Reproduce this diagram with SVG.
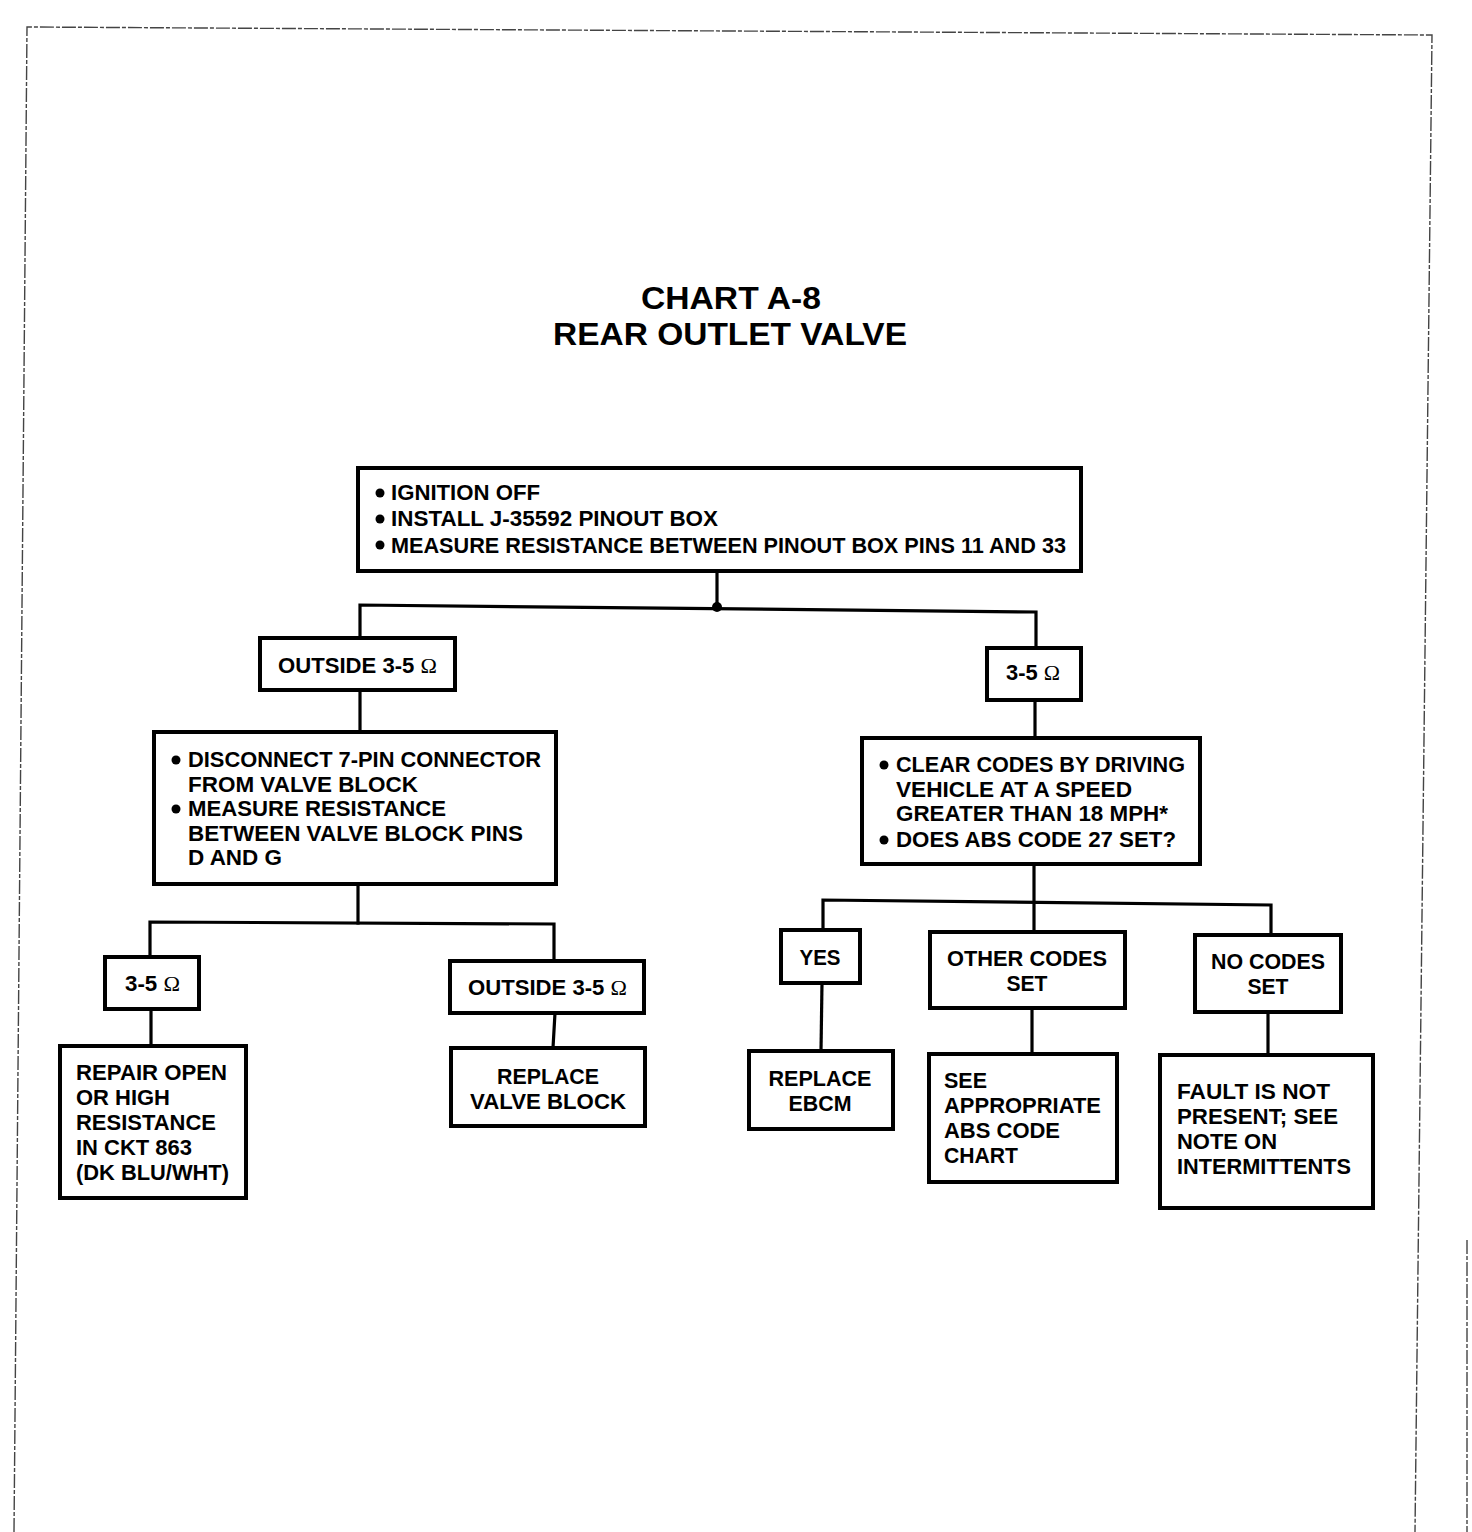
<svg xmlns="http://www.w3.org/2000/svg" width="1472" height="1532" viewBox="0 0 1472 1532">
<style>
.box{fill:#fff;stroke:#000;stroke-width:4}
.ln{fill:none;stroke:#000;stroke-width:3.2;stroke-linecap:square}
.frame{fill:none;stroke:#444;stroke-width:1.4;stroke-dasharray:14 2 4 2}
text{font-family:"Liberation Sans",Arial,sans-serif;font-weight:bold;font-size:22px;fill:#000}
.t{font-size:32px}
.c{text-anchor:middle}
.om{font-family:"Liberation Serif","Times New Roman",serif;font-weight:normal}
.dot{fill:#000}
</style>
<rect width="1472" height="1532" fill="#fff"/>
<g id="frame">
<polyline class="frame" points="14,1532 27,27 1432,35 1415,1532"/>
<line class="frame" x1="1467" y1="1240" x2="1467" y2="1532"/>
</g>
<g id="title">
<text class="t c" x="731" y="309" textLength="180" lengthAdjust="spacingAndGlyphs">CHART A-8</text>
<text class="t c" x="730" y="345" textLength="354" lengthAdjust="spacingAndGlyphs">REAR OUTLET VALVE</text>
</g>
<g id="connectors">
<polyline class="ln" points="717,571 717,607"/>
<polyline class="ln" points="360,638 360,605 1036,612 1036,648"/>
<circle class="dot" cx="717" cy="607" r="5"/>
<polyline class="ln" points="360,690 360,732"/>
<polyline class="ln" points="1035,700 1035,738"/>
<polyline class="ln" points="358,884 358,923"/>
<polyline class="ln" points="150,957 150,922 554,924 554,961"/>
<polyline class="ln" points="151,1009 151,1046"/>
<polyline class="ln" points="555,1013 553,1048"/>
<polyline class="ln" points="1034,864 1034,932"/>
<polyline class="ln" points="823,930 823,900 1271,905 1271,935"/>
<polyline class="ln" points="822,983 821,1051"/>
<polyline class="ln" points="1032,1008 1032,1054"/>
<polyline class="ln" points="1268,1012 1268,1055"/>
</g>
<g id="n_top">
<rect class="box" x="358" y="468" width="723" height="103"/>
<circle class="dot" cx="380" cy="493" r="4.5"/>
<circle class="dot" cx="380" cy="519" r="4.5"/>
<circle class="dot" cx="380" cy="545" r="4.5"/>
<text x="391" y="500" textLength="149" lengthAdjust="spacingAndGlyphs">IGNITION OFF</text>
<text x="391" y="526" textLength="327" lengthAdjust="spacingAndGlyphs">INSTALL J-35592 PINOUT BOX</text>
<text x="391" y="553" textLength="675" lengthAdjust="spacingAndGlyphs">MEASURE RESISTANCE BETWEEN PINOUT BOX PINS 11 AND 33</text>
</g>
<g id="n_out1">
<rect class="box" x="260" y="638" width="195" height="52"/>
<text x="278" y="673" textLength="159" lengthAdjust="spacingAndGlyphs">OUTSIDE 3-5 <tspan class="om">Ω</tspan></text>
</g>
<g id="n_in1">
<rect class="box" x="987" y="648" width="94" height="52"/>
<text x="1006" y="680" textLength="54" lengthAdjust="spacingAndGlyphs">3-5 <tspan class="om">Ω</tspan></text>
</g>
<g id="n_disc">
<rect class="box" x="154" y="732" width="402" height="152"/>
<circle class="dot" cx="176" cy="760" r="4.5"/>
<circle class="dot" cx="176" cy="809" r="4.5"/>
<text x="188" y="767" textLength="353" lengthAdjust="spacingAndGlyphs">DISCONNECT 7-PIN CONNECTOR</text>
<text x="188" y="792" textLength="230" lengthAdjust="spacingAndGlyphs">FROM VALVE BLOCK</text>
<text x="188" y="816" textLength="258" lengthAdjust="spacingAndGlyphs">MEASURE RESISTANCE</text>
<text x="188" y="841" textLength="335" lengthAdjust="spacingAndGlyphs">BETWEEN VALVE BLOCK PINS</text>
<text x="188" y="865" textLength="94" lengthAdjust="spacingAndGlyphs">D AND G</text>
</g>
<g id="n_clear">
<rect class="box" x="862" y="738" width="338" height="126"/>
<circle class="dot" cx="884" cy="765" r="4.5"/>
<circle class="dot" cx="884" cy="840" r="4.5"/>
<text x="896" y="772" textLength="289" lengthAdjust="spacingAndGlyphs">CLEAR CODES BY DRIVING</text>
<text x="896" y="797" textLength="236" lengthAdjust="spacingAndGlyphs">VEHICLE AT A SPEED</text>
<text x="896" y="821" textLength="272" lengthAdjust="spacingAndGlyphs">GREATER THAN 18 MPH*</text>
<text x="896" y="847" textLength="280" lengthAdjust="spacingAndGlyphs">DOES ABS CODE 27 SET?</text>
</g>
<g id="n_in2">
<rect class="box" x="105" y="957" width="94" height="52"/>
<text x="125" y="991" textLength="55" lengthAdjust="spacingAndGlyphs">3-5 <tspan class="om">Ω</tspan></text>
</g>
<g id="n_out2">
<rect class="box" x="450" y="961" width="194" height="52"/>
<text x="468" y="995" textLength="159" lengthAdjust="spacingAndGlyphs">OUTSIDE 3-5 <tspan class="om">Ω</tspan></text>
</g>
<g id="n_repair">
<rect class="box" x="60" y="1046" width="186" height="152"/>
<text x="76" y="1080" textLength="151" lengthAdjust="spacingAndGlyphs">REPAIR OPEN</text>
<text x="76" y="1105" textLength="94" lengthAdjust="spacingAndGlyphs">OR HIGH</text>
<text x="76" y="1130" textLength="140" lengthAdjust="spacingAndGlyphs">RESISTANCE</text>
<text x="76" y="1155" textLength="116" lengthAdjust="spacingAndGlyphs">IN CKT 863</text>
<text x="76" y="1180" textLength="153" lengthAdjust="spacingAndGlyphs">(DK BLU/WHT)</text>
</g>
<g id="n_valve">
<rect class="box" x="451" y="1048" width="194" height="78"/>
<text class="c" x="548" y="1084" textLength="102" lengthAdjust="spacingAndGlyphs">REPLACE</text>
<text class="c" x="548" y="1109" textLength="156" lengthAdjust="spacingAndGlyphs">VALVE BLOCK</text>
</g>
<g id="n_yes">
<rect class="box" x="781" y="930" width="79" height="53"/>
<text class="c" x="820" y="965" textLength="41" lengthAdjust="spacingAndGlyphs">YES</text>
</g>
<g id="n_other">
<rect class="box" x="930" y="932" width="195" height="76"/>
<text class="c" x="1027" y="966" textLength="160" lengthAdjust="spacingAndGlyphs">OTHER CODES</text>
<text class="c" x="1027" y="991" textLength="41" lengthAdjust="spacingAndGlyphs">SET</text>
</g>
<g id="n_nocodes">
<rect class="box" x="1195" y="935" width="146" height="77"/>
<text class="c" x="1268" y="969" textLength="114" lengthAdjust="spacingAndGlyphs">NO CODES</text>
<text class="c" x="1268" y="994" textLength="41" lengthAdjust="spacingAndGlyphs">SET</text>
</g>
<g id="n_ebcm">
<rect class="box" x="749" y="1051" width="144" height="78"/>
<text class="c" x="820" y="1086" textLength="103" lengthAdjust="spacingAndGlyphs">REPLACE</text>
<text class="c" x="820" y="1111" textLength="63" lengthAdjust="spacingAndGlyphs">EBCM</text>
</g>
<g id="n_see">
<rect class="box" x="929" y="1054" width="188" height="128"/>
<text x="944" y="1088" textLength="43" lengthAdjust="spacingAndGlyphs">SEE</text>
<text x="944" y="1113" textLength="157" lengthAdjust="spacingAndGlyphs">APPROPRIATE</text>
<text x="944" y="1138" textLength="116" lengthAdjust="spacingAndGlyphs">ABS CODE</text>
<text x="944" y="1163" textLength="74" lengthAdjust="spacingAndGlyphs">CHART</text>
</g>
<g id="n_fault">
<rect class="box" x="1160" y="1055" width="213" height="153"/>
<text x="1177" y="1099" textLength="153" lengthAdjust="spacingAndGlyphs">FAULT IS NOT</text>
<text x="1177" y="1124" textLength="161" lengthAdjust="spacingAndGlyphs">PRESENT; SEE</text>
<text x="1177" y="1149" textLength="100" lengthAdjust="spacingAndGlyphs">NOTE ON</text>
<text x="1177" y="1174" textLength="174" lengthAdjust="spacingAndGlyphs">INTERMITTENTS</text>
</g>
</svg>
